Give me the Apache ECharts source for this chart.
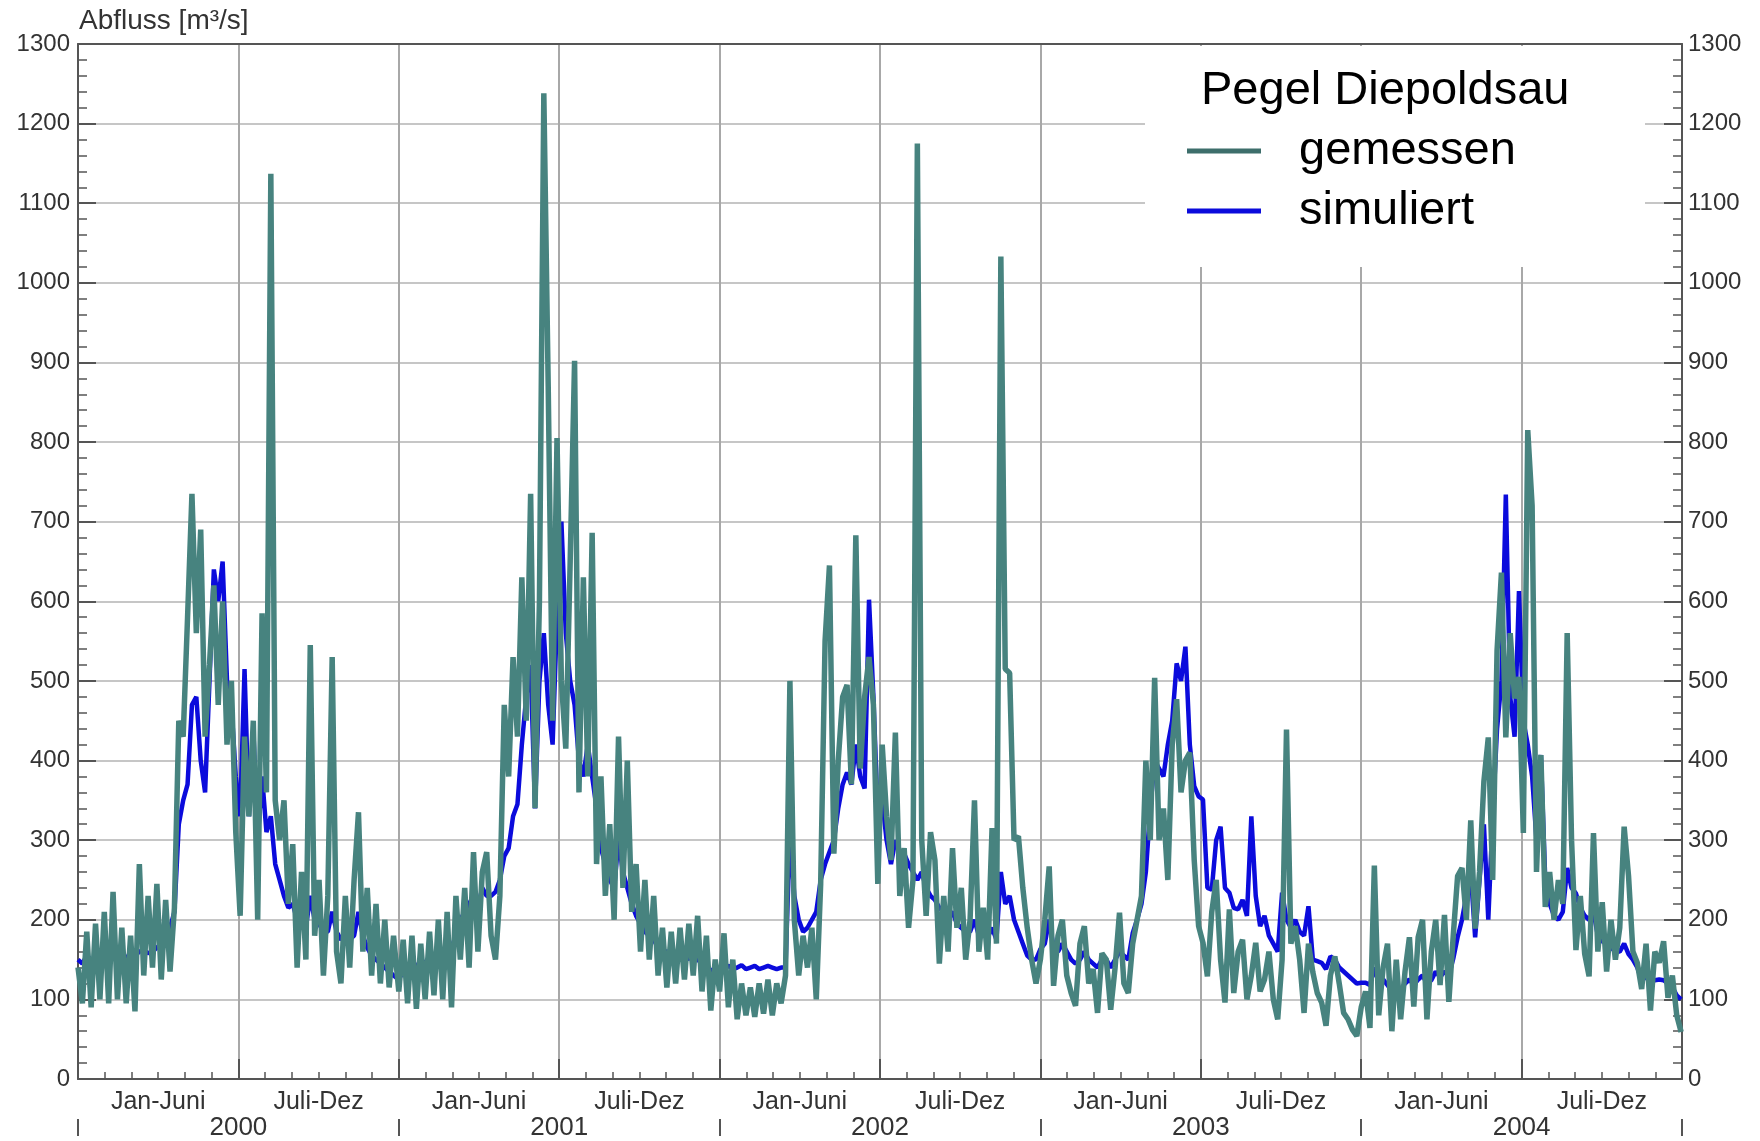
<!DOCTYPE html>
<html><head><meta charset="utf-8">
<script src="https://cdn.jsdelivr.net/npm/echarts@6/dist/echarts.min.js"></script>
<style>html,body{margin:0;padding:0;background:#fff}#c{width:1760px;height:1141px}</style>
</head><body><div id="c"></div>
<script>
// ---- data (one value every 5 days) ----
const years = ['2000', '2001', '2002', '2003', '2004'];
const yearDays = [366, 365, 365, 365, 366];
const halfYearLabels = ['Jan-Juni', 'Juli-Dez', 'Jan-Juni', 'Juli-Dez', 'Jan-Juni', 'Juli-Dez', 'Jan-Juni', 'Juli-Dez', 'Jan-Juni', 'Juli-Dez'];
const stepDays = 5;

const gemessen2000 = [140,95,185,90,195,100,210,95,235,100, 190,95,180,85,270,130,230,140,245,125,
  225,135,215,450,430,580,735,560,690,430, 520,620,470,600,420,500,310,205,430,330,
  450,200,585,360,1137,350,300,350,220,295, 140,260,150,545,180,250,130,230,530,160,
  120,230,140,250,335,160,240,130,220,120, 200,115,180];
const simuliert2000 = [150,145,155,150,150,155,150,150,155,150, 155,150,160,155,160,162,158,160,165,170,
  180,190,210,320,350,370,470,480,400,360, 500,640,600,650,500,470,380,330,515,330,
  440,300,380,310,330,270,250,230,215,220, 200,195,190,230,200,195,185,185,210,185,
  175,180,175,180,210,180,165,155,150,145, 140,135,130];

const gemessen2001 = [110,175,95,180,88,170,100,185,105,200, 100,210,90,230,150,240,140,285,160,260,
  285,180,150,230,470,380,530,430,630,450, 735,340,600,1238,870,450,805,500,415,650,
  902,360,630,380,686,270,380,230,320,200, 430,240,400,210,270,160,250,150,230,130,
  190,115,185,120,190,125,195,130,205,110, 180,86,150];
const simuliert2001 = [125,135,140,145,140,150,145,155,150,160, 155,170,165,180,200,210,220,230,215,240,
  230,230,235,250,280,290,330,345,420,480, 520,340,500,560,470,420,580,700,560,500,
  470,400,380,420,380,340,290,270,250,240, 300,260,240,220,205,195,185,180,175,165,
  160,160,158,155,160,155,150,165,150,145, 140,135,140];

const gemessen2002 = [110,183,90,150,75,120,80,115,78,120, 82,125,80,120,95,130,500,200,130,180,
  140,190,100,245,550,645,283,400,480,495, 370,683,390,480,530,470,245,420,330,275,
  435,230,290,190,250,1175,300,205,310,275, 145,230,160,290,190,240,150,200,350,160,
  215,150,315,170,1033,515,510,300,305,240, 190,150,120];
const simuliert2002 = [135,140,142,138,140,143,138,140,142,138, 140,142,140,138,140,140,310,230,200,185,
  190,200,210,250,270,285,300,340,370,385, 370,420,380,365,602,480,330,350,300,270,
  300,285,283,270,260,250,260,240,230,225, 215,210,205,210,195,190,185,185,200,180,
  185,178,190,175,260,220,230,200,185,170, 155,150,150];

const gemessen2003 = [150,200,267,117,180,200,130,108,92,170, 192,120,138,83,158,150,87,140,209,120,
  108,170,200,230,400,300,504,300,340,250, 420,477,360,400,410,275,192,171,129,210,
  250,150,96,213,108,160,175,100,130,171, 110,125,160,100,75,150,439,170,192,150,
  83,170,134,108,96,67,130,154,120,83, 75,62,54];
const simuliert2003 = [163,170,200,165,160,170,160,150,145,150, 160,150,145,140,150,150,140,150,160,155,
  150,183,200,220,260,340,400,390,380,420, 450,522,500,543,420,368,355,351,240,238,
  300,317,240,234,215,213,225,205,330,230, 192,205,180,170,160,234,200,190,200,185,
  180,217,150,148,146,138,154,150,140,135, 130,125,120];

const gemessen2004 = [90,110,64,268,80,140,170,60,150,75, 135,178,91,178,200,75,160,200,118,206,
  97,180,255,265,200,325,189,260,374,429, 250,538,636,429,560,478,505,309,815,720,
  260,407,216,260,200,250,220,560,300,162, 230,157,129,309,160,222,135,200,150,190,
  317,255,160,146,113,170,86,160,146,173, 102,130,80,59];
const simuliert2004 = [121,121,118,140,120,125,118,110,118,112, 120,125,118,125,130,120,124,135,128,135,
  130,151,178,200,230,260,178,250,320,200, 330,440,500,734,480,430,613,450,420,380,
  300,407,250,220,205,200,210,265,240,233, 215,205,200,210,180,173,170,165,160,160,
  170,157,150,140,124,128,125,124,125,124, 120,115,105,100];

const gemessenByYear = [gemessen2000, gemessen2001, gemessen2002, gemessen2003, gemessen2004];
const simuliertByYear = [simuliert2000, simuliert2001, simuliert2002, simuliert2003, simuliert2004];

// x is measured in years since 1 Jan 2000
function toPairs(arrs) {
  const out = [];
  arrs.forEach(function (a, k) {
    a.forEach(function (v, i) { out.push([k + i * stepDays / yearDays[k], v]); });
  });
  return out;
}

const FONT = '"Liberation Sans", Arial, sans-serif';
const AXIS_COLOR = '#555';
const GREEN = '#47837f';
const BLUE = '#0b0bdc';
const W = 1760, H = 1141;
const PL = 78, PR = 1682, PT = 44, PB = 1079;   // plot rectangle
const YEAR_ROW = 1119;                          // top of the year row ticks

const chart = echarts.init(document.getElementById('c'), null, { renderer: 'canvas' });

// extra invisible grids carry the inward-pointing ticks (drawn as ordinary outward ticks)
const grids = [
  { left: PL, right: W - PR, top: PT, bottom: H - PB },          // 0 main
  { left: PL + 18, right: W - PR, top: PT, bottom: H - PB },     // 1 left major ticks
  { left: PL + 9, right: W - PR, top: PT, bottom: H - PB },      // 2 left minor ticks
  { left: PR, right: 0, top: PT, bottom: H - PB },               // 3 right major ticks
  { left: PR, right: 0, top: PT, bottom: H - PB },               // 4 right minor ticks
  { left: PL, right: W - PR, top: PT, bottom: H - PB + 20 },     // 5 bottom half-year ticks
  { left: PL, right: W - PR, top: PT, bottom: H - PB + 7 },      // 6 bottom monthly ticks
  { left: PL, right: W - PR, top: PT, bottom: H - YEAR_ROW }     // 7 year row
];

function hiddenX(g) { return { gridIndex: g, type: 'value', min: 0, max: 5, show: false }; }
function hiddenY(g) { return { gridIndex: g, type: 'value', min: 0, max: 1300, show: false }; }
function tickY(g, interval, len, w) {
  return {
    gridIndex: g, type: 'value', min: 0, max: 1300, interval: interval, position: 'left',
    axisLine: { show: false },
    axisTick: { show: true, length: len, lineStyle: { color: AXIS_COLOR, width: w } },
    axisLabel: { show: false }, splitLine: { show: false }
  };
}
function tickX(g, max, interval, len, w) {
  return {
    gridIndex: g, type: 'value', min: 0, max: max, interval: interval, position: 'bottom',
    axisLine: { show: false },
    axisTick: { show: true, length: len, lineStyle: { color: AXIS_COLOR, width: w } },
    axisLabel: { show: false }, splitLine: { show: false }
  };
}
function mainYAxis(pos) {
  return {
    gridIndex: 0, type: 'value', min: 0, max: 1300, interval: 100, position: pos,
    axisLine: { show: true, onZero: false, lineStyle: { color: AXIS_COLOR, width: 2 } },
    axisTick: { show: false }, minorTick: { show: false },
    axisLabel: { margin: pos === 'left' ? 8 : 6, fontSize: 24, color: '#333', fontFamily: FONT,
      formatter: function (v) { return String(v); } },
    splitLine: { show: pos === 'left', lineStyle: { color: '#c6c6c6', width: 2 } }
  };
}

chart.setOption({
  animation: false,
  backgroundColor: '#fff',
  textStyle: { fontFamily: FONT },
  grid: grids,
  xAxis: [
    {
      gridIndex: 0, type: 'value', min: 0, max: 5, interval: 0.5, position: 'bottom',
      axisLine: { show: true, onZero: false, lineStyle: { color: AXIS_COLOR, width: 2 } },
      axisTick: { show: false }, minorTick: { show: false },
      axisLabel: { show: false },
      splitLine: { show: true, lineStyle: { color: '#a8a8a8', width: 2 } }
    },
    {
      gridIndex: 0, type: 'value', min: 0, max: 5, interval: 0.5, position: 'top',
      axisLine: { show: true, onZero: false, lineStyle: { color: AXIS_COLOR, width: 2 } },
      axisTick: { show: false }, axisLabel: { show: false }, splitLine: { show: false }
    },
    {
      gridIndex: 0, type: 'category', data: halfYearLabels, position: 'bottom', boundaryGap: true,
      axisLine: { show: false }, axisTick: { show: false }, splitLine: { show: false },
      axisLabel: { interval: 0, margin: 23, verticalAlign: 'middle', fontSize: 25, color: '#333', fontFamily: FONT }
    },
    hiddenX(1), hiddenX(2), hiddenX(3), hiddenX(4),
    tickX(5, 5, 0.5, 20, 2),       // half-year ticks (years)
    tickX(6, 60, 1, 7, 1.5),       // monthly ticks (months)
    {
      gridIndex: 7, type: 'category', data: years, position: 'bottom', boundaryGap: true,
      axisLine: { show: false }, splitLine: { show: false },
      axisTick: { show: true, interval: 0, length: 17, lineStyle: { color: AXIS_COLOR, width: 2 } },
      axisLabel: { interval: 0, margin: 9, verticalAlign: 'middle', fontSize: 26, color: '#333', fontFamily: FONT }
    }
  ],
  yAxis: [
    mainYAxis('left'), mainYAxis('right'),
    tickY(1, 100, 18, 2), tickY(2, 20, 9, 1.5),
    tickY(3, 100, 18, 2), tickY(4, 20, 9, 1.5),
    hiddenY(5), hiddenY(6), hiddenY(7)
  ],
  legend: {
    data: ['gemessen', 'simuliert'],
    orient: 'vertical', left: 1182, top: 118,
    icon: 'rect', itemWidth: 74, itemHeight: 5, itemGap: 4,
    textStyle: { fontSize: 47, color: '#000', lineHeight: 56, padding: [0, 0, 0, 33], fontFamily: FONT },
    z: 6
  },
  graphic: [
    { type: 'rect', silent: true, z: 1, shape: { x: 1145, y: 46, width: 500, height: 221 }, style: { fill: '#fff' } },
    { type: 'text', z: 6, style: { text: 'Pegel Diepoldsau', x: 1201, y: 91, fill: '#000', font: '47px ' + FONT, align: 'left', verticalAlign: 'middle' } },
    { type: 'text', z: 6, style: { text: 'Abfluss [m³/s]', x: 79, y: 21, fill: '#333', font: '28px ' + FONT, align: 'left', verticalAlign: 'middle' } }
  ],
  series: [
    {
      name: 'simuliert', type: 'line', xAxisIndex: 0, yAxisIndex: 0, z: 3,
      data: toPairs(simuliertByYear), symbol: 'none', showSymbol: false,
      lineStyle: { color: BLUE, width: 4.5 }, itemStyle: { color: BLUE }
    },
    {
      name: 'gemessen', type: 'line', xAxisIndex: 0, yAxisIndex: 0, z: 4,
      data: toPairs(gemessenByYear), symbol: 'none', showSymbol: false,
      lineStyle: { color: GREEN, width: 5.5 }, itemStyle: { color: '#3d6e6b' }
    }
  ]
});
</script>
</body></html>
